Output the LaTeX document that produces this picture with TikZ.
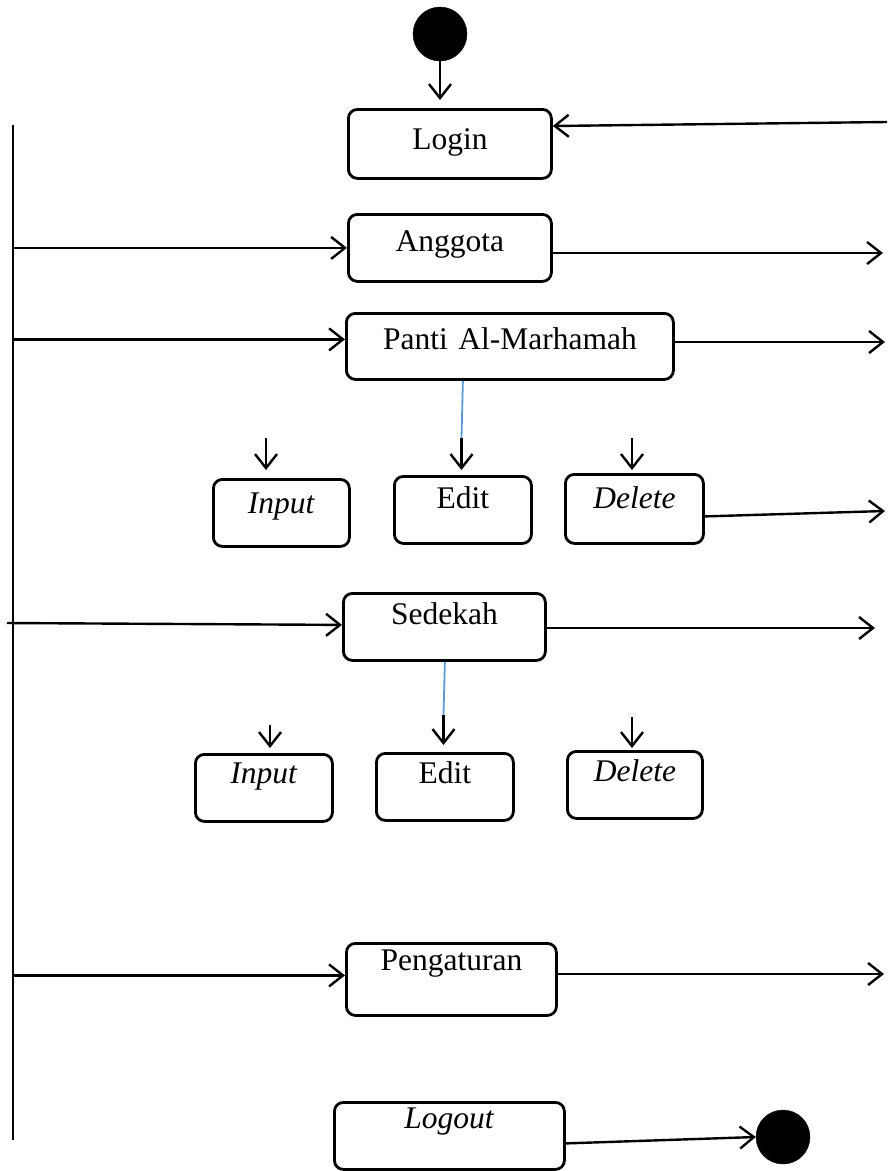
\documentclass[tikz,border=0pt]{standalone}
\usepackage{fontspec}
\setmainfont{Liberation Serif}
\usetikzlibrary{arrows.meta}
\definecolor{linkblue}{RGB}{91,155,213}
\begin{document}
\begin{tikzpicture}[x=1pt,y=-1pt,
  box/.style={draw,line width=2.8pt,rounded corners=9pt,inner sep=0pt,anchor=north west,align=center,font=\fontsize{31.5}{36}\selectfont},
  arr/.style={line width=2.4pt,-{Straight Barb[length=14pt,width=22pt]}},
  plain/.style={line width=2.4pt},
  bluel/.style={draw=linkblue,line width=1.8pt},
  dot/.style={circle,fill=black,draw=black,inner sep=0pt,minimum size=54pt}
]
\useasboundingbox (0,0) rectangle (887,1171);

% nodes
\node[dot] (start) at (440,34) {};
\node[dot] (end) at (783,1137) {};

\node[box,text width=203pt,text height=40pt,text depth=29pt] (login) at (347,108) {Login};
\node[box,text width=203pt,text height=37pt,text depth=30pt] (anggota) at (347,213) {Anggota};
\node[box,text width=327pt,text height=36pt,text depth=30pt] (panti) at (345,312) {Panti Al-Marhamah};
\node[box,text width=136pt,text height=34pt,text depth=33pt] (in1) at (212,478) {\textit{Input}};
\node[box,text width=137pt,text height=32pt,text depth=35pt] (ed1) at (393,475) {Edit};
\node[box,text width=138pt,text height=34pt,text depth=35pt] (de1) at (564,473) {\textit{Delete}};
\node[box,text width=202pt,text height=31pt,text depth=36pt] (sed) at (342,592) {Sedekah};
\node[box,text width=137pt,text height=29pt,text depth=38pt] (in2) at (194,753) {\textit{Input}};
\node[box,text width=137pt,text height=30pt,text depth=37pt] (ed2) at (375,752) {Edit};
\node[box,text width=135pt,text height=30pt,text depth=37pt] (de2) at (566,750) {\textit{Delete}};
\node[box,text width=210pt,text height=27pt,text depth=45pt] (peng) at (345,942) {Pengaturan};
\node[box,text width=230pt,text height=26pt,text depth=41pt] (logout) at (333,1101) {\textit{Logout}};

% coordinates for free ends
\coordinate (lt) at (13,125);
\coordinate (lb) at (13,1140);
\coordinate (rl) at (887,122);
\coordinate (ra) at (883,253);
\coordinate (rp) at (885,342);
\coordinate (rd) at (885,511);
\coordinate (rs) at (875,628);
\coordinate (rg) at (884,974);
\coordinate (sl) at (7,623);
\coordinate (pw) at ([yshift=7pt]panti.west);
\coordinate (gw) at ([yshift=4pt]peng.west);
\coordinate (ja1) at (461.5,438);
\coordinate (ia1) at (266,438);
\coordinate (da1) at (632,438);
\coordinate (ja2) at (443.5,715);
\coordinate (ia2) at (270,725);
\coordinate (da2) at (632,717);

% connectors
\draw[arr,shorten >=8pt] (start.south) -- (start.south |- login.north);
\draw[arr] (rl) -- ([yshift=-18pt]login.north east);
\draw[plain] (lt) -- (lb);
\draw[arr] (lt |- anggota.west) -- (anggota.west);
\draw[arr] (lt |- pw) -- (pw);
\draw[arr] (sl) -- ([yshift=2pt]sed.west);
\draw[arr] (lt |- gw) -- (gw);

\draw[arr] (anggota.east |- ra) -- (ra);
\draw[arr] (panti.east |- rp) -- (rp);
\draw[arr] ([yshift=-7.5pt]de1.east) -- (rd);
\draw[arr] (sed.east |- rs) -- (rs);
\draw[arr] (peng.east |- rg) -- (rg);
\draw[arr] ([yshift=-7.5pt]logout.east) -- (end.west);

\draw[bluel] (ed1.north |- panti.south) -- (ja1);
\draw[arr,shorten >=5pt] (ja1) -- (ja1 |- ed1.north);
\draw[arr,shorten >=8pt] (ia1) -- (ia1 |- in1.north);
\draw[arr,shorten >=3pt] (da1) -- (da1 |- de1.north);

\draw[bluel] (ed2.north |- sed.south) -- (ja2);
\draw[arr,shorten >=7pt] (ja2) -- (ja2 |- ed2.north);
\draw[arr,shorten >=5pt] (ia2) -- (ia2 |- in2.north);
\draw[arr,shorten >=2pt] (da2) -- (da2 |- de2.north);
\end{tikzpicture}
\end{document}
